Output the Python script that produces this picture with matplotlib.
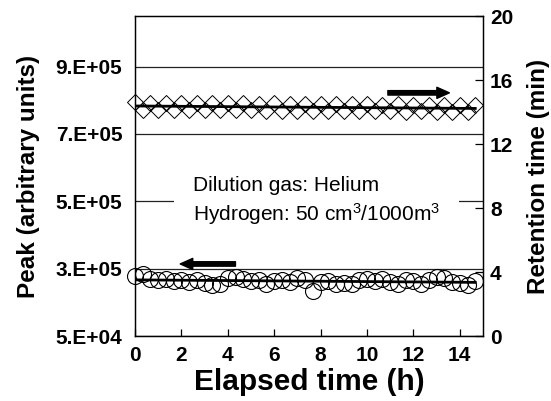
import numpy as np
import matplotlib
matplotlib.use("Agg")
import matplotlib.pyplot as plt

plt.rcParams["font.family"] = ["Liberation Sans", "DejaVu Sans"]
plt.rcParams["mathtext.fontset"] = "custom"
plt.rcParams["mathtext.rm"] = "Liberation Sans"
plt.rcParams["mathtext.default"] = "regular"

# elapsed time, one sample every 20 min
hours = np.arange(45) / 3.0

# peak area (left axis)
peak = np.array([
    2.28, 2.35, 2.20, 2.15, 2.18, 2.12, 2.15, 2.10, 2.15, 2.08,
    2.02, 2.05, 2.22, 2.25, 2.20, 2.12, 2.15, 2.05, 2.12, 2.15,
    2.10, 2.22, 2.15, 1.85, 2.10, 2.12, 2.05, 2.08, 2.05, 2.15,
    2.20, 2.12, 2.18, 2.10, 2.05, 2.15, 2.12, 2.05, 2.15, 2.25,
    2.22, 2.10, 2.08, 2.02, 2.12,
]) * 1e5

# retention time in minutes (right axis)
retention = np.array([
    14.60, 14.15, 14.58, 14.14, 14.59, 14.13, 14.57, 14.14, 14.57, 14.12,
    14.55, 14.12, 14.56, 14.10, 14.54, 14.11, 14.53, 14.09, 14.54, 14.08,
    14.52, 14.09, 14.51, 14.07, 14.52, 14.06, 14.50, 14.07, 14.49, 14.05,
    14.48, 14.06, 14.47, 14.04, 14.48, 14.03, 14.46, 14.04, 14.45, 14.02,
    14.46, 14.01, 14.44, 14.02, 14.43,
])

peak_ticks = [5e4, 2.5e5, 4.5e5, 6.5e5, 8.5e5]
peak_labels = ["5.E+04", "3.E+05", "5.E+05", "7.E+05", "9.E+05"]
rt_ticks = [0, 4, 8, 12, 16, 20]
x_ticks = [0, 2, 4, 6, 8, 10, 12, 14]

fig = plt.figure(figsize=(5.51, 4.01), dpi=100)
ax = fig.add_axes([0.245, 0.162, 0.6316, 0.798])
ax2 = ax.twinx()

# left axis: peak
ax.plot(hours, peak, "o", ms=11.5, mfc="none", mec="k", mew=0.8, clip_on=False, zorder=4)
fit = np.polyfit(hours, peak, 1)
ax.plot(hours, np.polyval(fit, hours), color="k", lw=2.0, zorder=5)

# right axis: retention time
ax2.plot(hours, retention, "D", ms=7.8, mfc="none", mec="k", mew=0.7, clip_on=False)
fit2 = np.polyfit(hours, retention, 1)
ax2.plot(hours, np.polyval(fit2, hours), color="k", lw=2.0)

ax.set_xlim(0, 15)
ax.set_ylim(5e4, 1e6)
ax2.set_ylim(0, 20)

ax.set_xticks(x_ticks)
ax.set_yticks(peak_ticks)
ax.set_yticklabels(peak_labels)
ax2.set_yticks(rt_ticks)

ax.grid(axis="y", color="#222222", lw=0.9)
ax.tick_params(axis="y", length=0, pad=9, labelsize=15)
ax.tick_params(axis="x", direction="in", length=5, width=0.9, pad=7, labelsize=15)
ax2.tick_params(axis="y", direction="in", length=6, width=0.9, pad=5, labelsize=15)
for t in ax.get_xticklabels() + ax.get_yticklabels() + ax2.get_yticklabels():
    t.set_fontweight("bold")

for a in (ax, ax2):
    for s in a.spines.values():
        s.set_linewidth(0.9)

ax.set_xlabel("Elapsed time (h)", fontsize=21.5, fontweight="bold", labelpad=2)
ax.set_ylabel("Peak (arbitrary units)", fontsize=17.5, fontweight="bold", labelpad=11)
ax2.set_ylabel("Retention time (min)", fontsize=17.5, fontweight="bold", labelpad=10)

ax.text(2.5, 4.5e5, "Dilution gas: Helium\nHydrogen: 50 cm$^3$/1000m$^3$",
        fontsize=15, va="center", ha="left", linespacing=1.3, zorder=6,
        bbox=dict(boxstyle="square,pad=0.9", fc="white", ec="none"))

arrow = dict(arrowstyle="simple,head_length=0.9,head_width=0.8,tail_width=0.32",
             color="k", mutation_scale=10, shrinkA=0, shrinkB=0)
ax.annotate("", xy=(1.95, 2.64e5), xytext=(4.33, 2.64e5), arrowprops=arrow, zorder=6)
ax2.annotate("", xy=(13.55, 15.2), xytext=(10.9, 15.2), arrowprops=arrow)

fig.savefig("out.png", dpi=100)
